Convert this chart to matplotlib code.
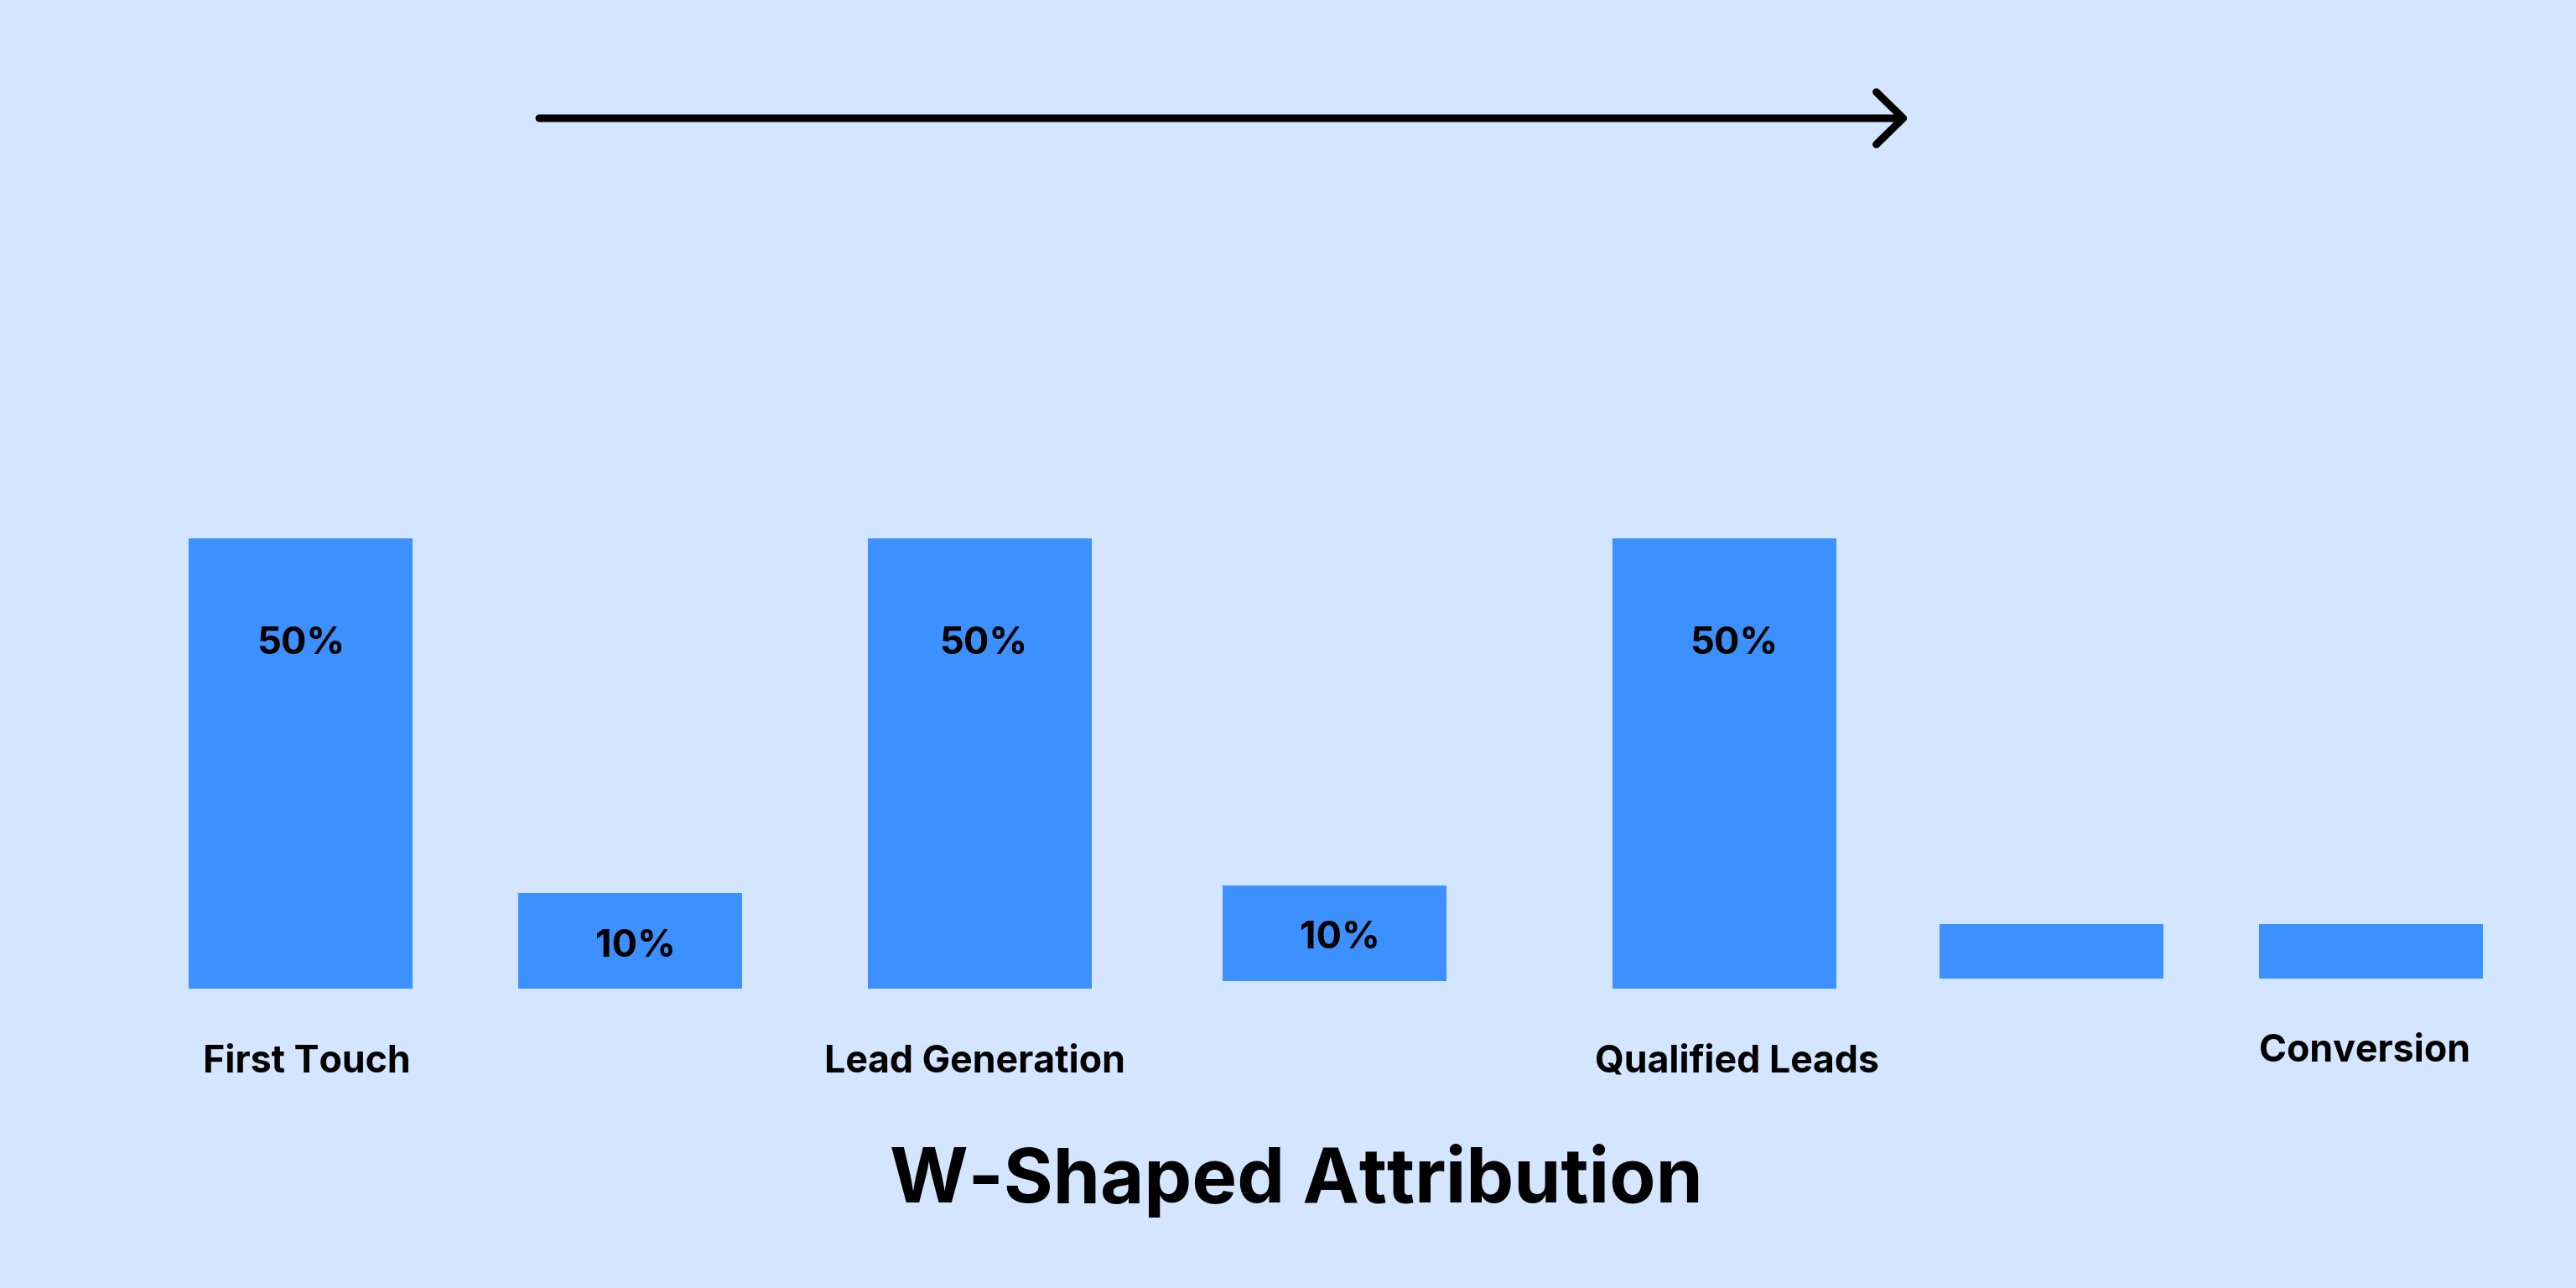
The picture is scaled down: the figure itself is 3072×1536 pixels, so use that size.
import matplotlib.pyplot as plt

plt.rcParams['font.family'] = ['Inter', 'DejaVu Sans']

# data (bar heights in % units, small lift for some bars)
stages = ['First Touch', '', 'Lead Generation', '', 'Qualified Leads', '', 'Conversion']
heights = [50, 10.6, 50, 10.6, 50, 6.1, 6.1]
lifts = [0, 0, 0, 0.85, 0, 1.1, 1.1]
value_labels = ['50%', '10%', '50%', '10%', '50%', '', '']
title = 'W-Shaped Attribution'

# layout (x in figure pixels)
xpos = [358.5, 751.5, 1168.5, 1591.5, 2056.5, 2446.5, 2827.5]
label_dx = [0, 6.5, 4.5, 6.5, 11.5, 0, 0]
label_y = [38.3, 4.7, 38.3, 5.55, 38.3, 0, 0]
stage_x = [366, 0, 1162, 0, 2071, 0, 2820]
stage_y = [-9.3, 0, -9.3, 0, -9.3, 0, -8.1]

bg = '#D4E5FF'
bar_col = '#3D90FF'
px_per_unit = 537 / 50

fig = plt.figure(figsize=(30.72, 15.36), dpi=100, facecolor=bg)
ax = fig.add_axes([0, 0, 1, 1])
ax.set_facecolor(bg)
ax.set_xlim(0, 3072)
ax.set_ylim((1179 - 1536) / px_per_unit, 1179 / px_per_unit)
ax.axis('off')

ax.bar(xpos, heights, bottom=lifts, width=267, color=bar_col, linewidth=0)

for x, dx, y, t in zip(xpos, label_dx, label_y, value_labels):
    if t:
        ax.text(x + dx, y, t, ha='center', va='center', fontsize=32.5,
                fontweight='bold', color='black')

for x, y, s in zip(stage_x, stage_y, stages):
    if s:
        ax.text(x, y, s, ha='center', va='baseline', fontsize=32.2,
                fontweight='bold', color='black')

ax.text(1546, -23.7, title, ha='center', va='baseline', fontsize=65,
        fontweight='bold', color='black')

# journey arrow on top
arrow_y = (1179 - 141) / px_per_unit
ax.annotate('', xy=(2276, arrow_y), xytext=(643, arrow_y),
            arrowprops=dict(arrowstyle='->,head_length=23,head_width=22.5',
                            mutation_scale=1, lw=6.5, color='black',
                            shrinkA=0, shrinkB=0, joinstyle='round',
                            capstyle='round'))

fig.savefig('out.png', dpi=100, facecolor=bg)
